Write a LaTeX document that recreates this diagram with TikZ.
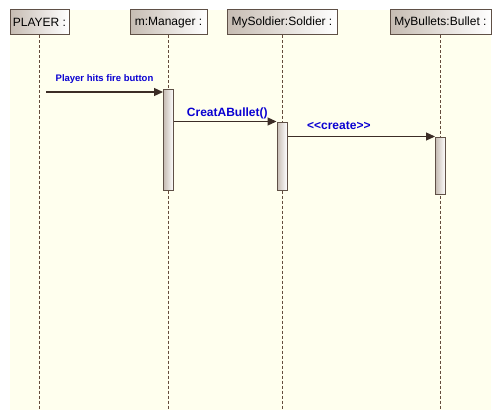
\documentclass[tikz,border=0pt]{standalone}
\usepackage{fontspec}
\setmainfont{Liberation Sans}
\usepackage{xcolor}
\usetikzlibrary{arrows.meta}

\definecolor{paper}{RGB}{255,255,238}
\definecolor{framebrown}{RGB}{95,80,70}
\definecolor{lifebrown}{RGB}{100,75,60}
\definecolor{msgline}{RGB}{60,45,38}
\definecolor{boxtan}{RGB}{198,188,178}
\definecolor{msgblue}{RGB}{10,0,210}

\begin{document}
\begin{tikzpicture}[x=1pt, y=-1pt,
		head/.style={draw=framebrown, line width=1pt, left color=boxtan, right color=white, minimum height=25pt, inner sep=0pt, font=\fontsize{12}{14}\selectfont},
		act/.style={draw=framebrown, line width=1pt, left color=boxtan, right color=white, minimum width=10pt, inner sep=0pt},
		life/.style={lifebrown, line width=1pt, dash pattern=on 3pt off 2pt},
		msg/.style={msgline, line width=1.2pt, -{Triangle[length=9pt, width=8pt]}},
		msglabel/.style={msgblue, inner sep=0pt, font=\bfseries\fontsize{12}{14}\selectfont}]
		\useasboundingbox (0,0) rectangle (501,420);
		\fill[paper] (10,10) rectangle (491,410);
		\coordinate (bottom) at (0,410);
		% objects
		\node[head, minimum width=59pt] (player) at (39.5,22.5) {PLAYER :};
		\node[head, minimum width=77pt] (manager) at (168.5,22.5) {m:Manager :};
		\node[head, minimum width=110pt] (soldier) at (282,22.5) {MySoldier:Soldier :};
		\node[head, minimum width=101pt] (bullet) at (440.5,22.5) {MyBullets:Bullet :};
		\draw[life] (player.south) -- (player.south |- bottom);
		\draw[life] (manager.south) -- (manager.south |- bottom);
		\draw[life] (soldier.south) -- (soldier.south |- bottom);
		\draw[life] (bullet.south) -- (bullet.south |- bottom);
		% activations
		\node[act, minimum height=100pt] (manageract) at (168.5,140) {};
		\node[act, minimum height=68pt] (soldieract) at (282,156) {};
		\node[act, minimum height=57pt] (bulletact) at (440.5,165.5) {};
		% messages
		\coordinate (fire) at (46,92);
		\draw[msg] (fire) -- (fire -| manageract.west) node[msglabel, midway, above=8pt, font=\bfseries\fontsize{9.5}{11}\selectfont]{Player hits fire button};
		\draw[msg] (soldieract.north west -| manageract.east) -- (soldieract.north west) node[msglabel, pos=0.52, above=2pt]{CreatABullet()};
		\draw[msg] (bulletact.north west -| soldieract.east) -- (bulletact.north west) node[msglabel, pos=0.348, above=6pt]{<{}<create>{}>};
	\end{tikzpicture}
\end{document}
